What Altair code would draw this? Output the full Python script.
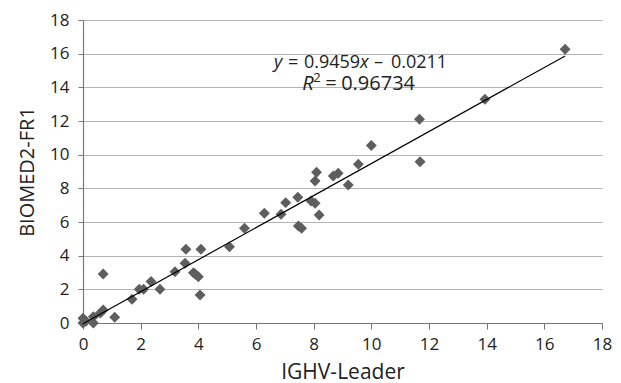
import altair as alt
import pandas as pd

# Data
ighv_leader = [0.0, 0.0, 0.1, 0.36, 0.36, 0.6, 0.7, 0.7, 1.1, 1.7,
               1.95, 2.1, 2.36, 2.67, 3.19, 3.54, 3.57, 3.83, 3.9, 4.0,
               4.06, 4.09, 5.08, 5.6, 6.29, 6.87, 7.03, 7.45, 7.47, 7.58,
               7.91, 8.05, 8.05, 8.1, 8.19, 8.68, 8.85, 9.2, 9.55, 10.0,
               11.67, 11.69, 13.94, 16.72]
biomed2_fr1 = [0.0, 0.28, 0.1, 0.37, 0.0, 0.59, 0.77, 2.91, 0.34, 1.41,
               2.0, 2.0, 2.46, 2.0, 3.05, 3.55, 4.38, 2.99, 2.9, 2.75,
               1.66, 4.38, 4.53, 5.63, 6.52, 6.46, 7.15, 7.47, 5.76, 5.63,
               7.25, 7.11, 8.44, 8.95, 6.42, 8.73, 8.89, 8.2, 9.43, 10.54,
               12.1, 9.58, 13.29, 16.26]
tick_values = [0, 2, 4, 6, 8, 10, 12, 14, 16, 18]

# Equation annotation pieces (text, italic?, offset within the line)
eq_text = ["y", "=", "0.9459", "x", "\u2013", "0.0211"]
eq_italic = [True, False, False, True, False, False]
eq_dx = [0, 14, 30, 86, 100, 117]
r2_text = ["R", "2", "=", "0.96734"]
r2_italic = [True, False, False, False]
r2_dx = [0, 11, 23, 39]
r2_size = [20, 13, 20, 20]
r2_rise = [0, -8, 0, 0]

FONT = "Open Sans"

df = pd.DataFrame({"x": ighv_leader, "y": biomed2_fr1})

x_scale = alt.Scale(domain=[0, 18], nice=False)
y_scale = alt.Scale(domain=[0, 18], nice=False)

x_axis = alt.Axis(values=tick_values, title="IGHV-Leader", grid=False,
                  labelFont=FONT, labelFontSize=17, labelColor="#222222",
                  titleFont=FONT, titleFontSize=21, titleFontWeight="normal",
                  titleColor="#222222", tickSize=6, tickColor="#777777",
                  domainColor="#777777", domainWidth=1.2,
                  labelPadding=7, titlePadding=9,
                  labelFlush=False, labelOverlap=False)
y_axis = alt.Axis(values=tick_values, title="BIOMED2-FR1", grid=True,
                  gridColor="#b4b4b4", gridWidth=1.2,
                  labelFont=FONT, labelFontSize=17, labelColor="#222222",
                  titleFont=FONT, titleFontSize=20, titleFontWeight="normal",
                  titleColor="#222222", tickSize=5, tickColor="#777777",
                  domainColor="#777777", domainWidth=1.2,
                  labelPadding=9, titlePadding=12,
                  labelFlush=False, labelOverlap=False)

X = alt.X("x:Q", scale=x_scale, axis=x_axis)
Y = alt.Y("y:Q", scale=y_scale, axis=y_axis)

points = alt.Chart(df).mark_point(
    shape="diamond", filled=True, size=120, color="#5e5e5e", opacity=1
).encode(x=X, y=Y)

trend = alt.Chart(df).transform_regression("x", "y").mark_line(
    color="black", strokeWidth=1.2
).encode(x=X, y=Y)

def label_layer(texts, italics, dxs, sizes, rises, xpos, ypos):
    layers = []
    for t, it, d, s, r in zip(texts, italics, dxs, sizes, rises):
        ann = pd.DataFrame({"x": [xpos], "y": [ypos], "t": [t]})
        layers.append(
            alt.Chart(ann).mark_text(
                align="left", baseline="alphabetic", font=FONT, fontSize=s,
                fontStyle="italic" if it else "normal", color="#222222",
                dx=d, dy=r
            ).encode(x=X, y=Y, text="t:N")
        )
    return layers

eq_layers = label_layer(eq_text, eq_italic, eq_dx, [18] * 6, [0] * 6,
                        6.62, 15.15)
r2_layers = label_layer(r2_text, r2_italic, r2_dx, r2_size, r2_rise,
                        7.6, 13.84)

chart = alt.layer(points, trend, *eq_layers, *r2_layers).properties(
    width=519, height=303,
    autosize=alt.AutoSizeParams(type="none"),
    padding={"left": 83, "top": 20, "right": 19, "bottom": 60},
    background="white",
).configure_view(stroke=None)

chart.save("out.html", embed_options={"renderer": "svg", "actions": False})
